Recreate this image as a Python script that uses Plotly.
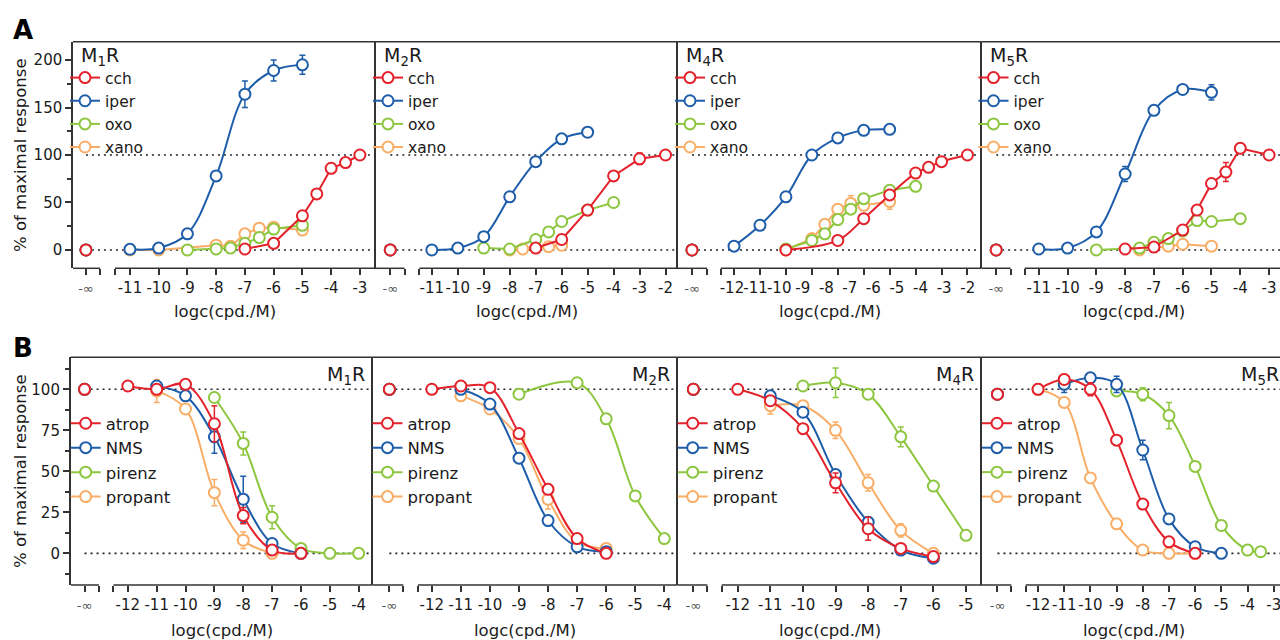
import plotly.graph_objects as go

# ====================== DATA ======================
# x = log10(concentration / M); y = % of maximal response; e = error (SEM)
# control value (no compound) is drawn at the "-inf" position of each panel

# ---- Panel A : agonists ----
A_names = ["cch", "iper", "oxo", "xano"]
A_ctrl = [0, 0, 0, 0]

# M1R
A1_cch_x = [-7, -6, -5, -4.5, -4, -3.5, -3]
A1_cch_y = [1, 7, 36, 59, 86, 92, 100]
A1_cch_e = [0, 1, 3, 2, 2, 2, 1]
A1_iper_x = [-11, -10, -9, -8, -7, -6, -5]
A1_iper_y = [0.7, 2, 17, 78, 164, 189, 195]
A1_iper_e = [0, 1, 3, 5, 14, 11, 10]
A1_oxo_x = [-9, -8, -7.5, -7, -6.5, -6, -5]
A1_oxo_y = [0, 1, 2, 7, 13, 22, 26]
A1_oxo_e = [0, 0, 1, 2, 2, 2, 2]
A1_xano_x = [-11, -10, -8, -7.5, -7, -6.5, -6, -5]
A1_xano_y = [0, 0, 5, 4, 17, 23, 24, 21]
A1_xano_e = [0, 0, 2, 1, 3, 2, 3, 2]

# M2R
A2_cch_x = [-7, -6, -5, -4, -3, -2]
A2_cch_y = [2, 11, 42, 78, 96, 100]
A2_cch_e = [0, 2, 2, 4, 6, 2]
A2_iper_x = [-11, -10, -9, -8, -7, -6, -5]
A2_iper_y = [0, 2, 14, 56, 93, 117, 124]
A2_iper_e = [0, 1, 2, 3, 3, 4, 3]
A2_oxo_x = [-9, -8, -7, -6.5, -6, -5, -4]
A2_oxo_y = [2, 1, 11, 19, 30, 42, 50]
A2_oxo_e = [0, 0, 1, 1, 2, 2, 5]
A2_xano_x = [-8, -7.5, -6.5, -6]
A2_xano_y = [0, 1, 3.5, 5]
A2_xano_e = [0, 0, 1, 2]

# M4R
A3_cch_x = [-9, -7, -6, -5, -4, -3.5, -3, -2]
A3_cch_y = [0, 10, 33, 58, 81, 87, 93, 100]
A3_cch_e = [0, 1, 2, 2, 2, 2, 2, 2]
A3_iper_x = [-11, -10, -9, -8, -7, -6, -5]
A3_iper_y = [4, 26, 56, 100, 118, 126, 127]
A3_iper_e = [0, 1, 2, 2, 2, 3, 4]
A3_oxo_x = [-9, -8, -7.5, -7, -6.5, -6, -5, -4]
A3_oxo_y = [1, 10, 17, 32, 43, 54, 63, 67]
A3_oxo_e = [0, 1, 2, 2, 3, 3, 2, 2]
A3_xano_x = [-9, -8, -7.5, -7, -6.5, -6, -5]
A3_xano_y = [0, 12, 27, 43, 49, 47, 51]
A3_xano_e = [0, 3, 3, 3, 8, 4, 8]

# M5R
A4_cch_x = [-8, -7, -6, -5.5, -5, -4.5, -4, -3]
A4_cch_y = [1, 3, 21, 42, 70, 82, 107, 100]
A4_cch_e = [0, 1, 2, 2, 3, 10, 2, 2]
A4_iper_x = [-11, -10, -9, -8, -7, -6, -5]
A4_iper_y = [1, 2, 19, 80, 147, 169, 166]
A4_iper_e = [0, 1, 2, 8, 4, 3, 8]
A4_oxo_x = [-9, -7.5, -7, -6.5, -6, -5.5, -5, -4]
A4_oxo_y = [0, 2, 8, 12, 20, 31, 30, 33]
A4_oxo_e = [0, 0, 1, 1, 1, 2, 1, 1]
A4_xano_x = [-7.5, -6.5, -6, -5]
A4_xano_y = [0, 4, 6, 4]
A4_xano_e = [0, 1, 1, 1]

# ---- Panel B : antagonists ----
B_names = ["atrop", "NMS", "pirenz", "propant"]

# M1R
B1_ctrl = [100, 100, 100, 100]
B1_atrop_x = [-12, -11, -10, -9, -8, -7, -6]
B1_atrop_y = [102, 100, 103, 79, 23, 2, 0]
B1_atrop_e = [0, 1, 1, 11, 5, 1, 1]
B1_NMS_x = [-11, -10, -9, -8, -7, -6]
B1_NMS_y = [102, 96, 71, 33, 6, 0]
B1_NMS_e = [1, 2, 10, 14, 2, 1]
B1_pirenz_x = [-9, -8, -7, -6, -5, -4]
B1_pirenz_y = [95, 67, 22, 3, 0, 0]
B1_pirenz_e = [1, 7, 7, 1, 0, 0]
B1_propant_x = [-11, -10, -9, -8, -7]
B1_propant_y = [99, 88, 37, 8, 0]
B1_propant_e = [7, 2, 8, 5, 0]

# M2R
B2_ctrl = [100, 100, 100, 100]
B2_atrop_x = [-12, -11, -10, -9, -8, -7, -6]
B2_atrop_y = [100, 102, 101, 73, 39, 9, 0]
B2_atrop_e = [0, 1, 1, 2, 2, 1, 1]
B2_NMS_x = [-11, -10, -9, -8, -7, -6]
B2_NMS_y = [100, 91, 58, 20, 4, 1]
B2_NMS_e = [1, 1, 1, 1, 1, 1]
B2_pirenz_x = [-9, -7, -6, -5, -4]
B2_pirenz_y = [97, 104, 82, 35, 9]
B2_pirenz_e = [3, 1, 3, 1, 1]
B2_propant_x = [-11, -10, -9, -8, -7, -6]
B2_propant_y = [96, 88, 70, 33, 7, 3]
B2_propant_e = [1, 2, 3, 6, 1, 1]

# M4R
B3_ctrl = [100, 100, 100, 100]
B3_atrop_x = [-12, -11, -10, -9, -8, -7, -6]
B3_atrop_y = [100, 93, 76, 43, 15, 3, -2]
B3_atrop_e = [0, 1, 1, 6, 7, 1, 1]
B3_NMS_x = [-11, -10, -9, -8, -7, -6]
B3_NMS_y = [96, 86, 48, 19, 2, -3]
B3_NMS_e = [1, 1, 2, 3, 1, 1]
B3_pirenz_x = [-10, -9, -8, -7, -6, -5]
B3_pirenz_y = [102, 104, 97, 71, 41, 11]
B3_pirenz_e = [1, 9, 3, 6, 1, 1]
B3_propant_x = [-11, -10, -9, -8, -7, -6]
B3_propant_y = [90, 90, 75, 43, 14, 0]
B3_propant_e = [5, 1, 5, 5, 4, 1]

# M5R
B4_ctrl = [97, 97, 97, 97]
B4_atrop_x = [-12, -11, -10, -9, -8, -7, -6]
B4_atrop_y = [100, 106, 100, 69, 30, 7, 0]
B4_atrop_e = [3, 3, 4, 1, 1, 1, 1]
B4_NMS_x = [-11, -10, -9, -8, -7, -6, -5]
B4_NMS_y = [103, 107, 103, 63, 21, 4, 0]
B4_NMS_e = [5, 3, 5, 6, 1, 1, 1]
B4_pirenz_x = [-9, -8, -7, -6, -5, -4, -3.5]
B4_pirenz_y = [99, 97, 84, 53, 17, 2, 1]
B4_pirenz_e = [1, 4, 8, 1, 1, 0, 0]
B4_propant_x = [-12, -11, -10, -9, -8, -7, -6]
B4_propant_y = [100, 92, 46, 18, 2, 0, 0]
B4_propant_e = [0, 1, 1, 1, 1, 0, 0]

# ---- tick labels ----
A1_ticks = [-11, -10, -9, -8, -7, -6, -5, -4, -3]
A2_ticks = [-11, -10, -9, -8, -7, -6, -5, -4, -3, -2]
A3_ticks = [-11, -10, -9, -8, -7, -6, -5, -4, -3, -2]          # tick marks
A3_label_text = ["-12", "-11", "-10", "-9", "-8", "-7", "-6", "-5", "-4", "-3", "-2"]
A3_label_pos = [-11.08, -10.17, -9.26, -8.35, -7.44, -6.54, -5.63, -4.72, -3.81, -2.9, -1.99]
A4_ticks = [-11, -10, -9, -8, -7, -6, -5, -4, -3]
B1_ticks = [-12, -11, -10, -9, -8, -7, -6, -5, -4]
B2_ticks = [-12, -11, -10, -9, -8, -7, -6, -5, -4]
B3_ticks = [-12, -11, -10, -9, -8, -7, -6, -5]
B4_ticks = [-12, -11, -10, -9, -8, -7, -6, -5, -4, -3]
A_yticks = [0, 50, 100, 150, 200]
A_yminor = [25, 75, 125, 175]
B_yticks = [0, 25, 50, 75, 100]
B_yminor = [-12.5, 12.5, 37.5, 62.5, 87.5, 112.5]
NINF_LABEL = "-∞"
receptor_titles = ["M<sub>1</sub>R", "M<sub>2</sub>R", "M<sub>4</sub>R", "M<sub>5</sub>R"]

# ====================== STYLE / LAYOUT ======================
W, H = 1280, 640
FONT = "DejaVu Sans, Arial, sans-serif"
AX = "#333333"
TXT = "#1a1a1a"
COL = {"cch": "#E3222B", "iper": "#1E5DAA", "oxo": "#8DC63F", "xano": "#F8AE66",
       "atrop": "#E3222B", "NMS": "#1E5DAA", "pirenz": "#8DC63F", "propant": "#F8AE66"}

g = globals()


def series(prefix, names):
    return ([g[f"{prefix}_{n}_x"] for n in names],
            [g[f"{prefix}_{n}_y"] for n in names],
            [g[f"{prefix}_{n}_e"] for n in names])


# geometry (pixels) and axis ranges for the 8 panels
PANELS = [
    dict(id="A1", names=A_names, ctrl=A_ctrl, ticks=A1_ticks, xpx=(73, 376), ypx=(41.7, 268.3),
         xr=[-12.98, -2.44], ninf=-12.53, brk=(-12.04, -11.52), yr=[-19.3, 219.3],
         shapes=["linear", "spline", "linear", "linear"]),
    dict(id="A2", names=A_names, ctrl=A_ctrl, ticks=A2_ticks, xpx=(376, 678), ypx=(41.7, 268.3),
         xr=[-13.15, -1.52], ninf=-12.6, brk=(-12.05, -11.48), yr=[-19.3, 219.3],
         shapes=["linear", "spline", "linear", "linear"]),
    dict(id="A3", names=A_names, ctrl=A_ctrl, ticks=A3_ticks, xpx=(678, 981.5), ypx=(41.7, 268.3),
         xr=[-13.16, -1.46], ninf=-12.62, brk=(-12.04, -11.51), yr=[-19.3, 219.3],
         shapes=["spline", "spline", "linear", "linear"]),
    dict(id="A4", names=A_names, ctrl=A_ctrl, ticks=A4_ticks, xpx=(981.5, 1280), ypx=(41.7, 268.3),
         xr=[-12.99, -2.62], ninf=-12.48, brk=(-11.98, -11.49), yr=[-19.3, 219.3],
         shapes=["linear", "spline", "linear", "linear"]),
    dict(id="B1", names=B_names, ctrl=B1_ctrl, ticks=B1_ticks, xpx=(70.7, 372.5), ypx=(357.3, 585),
         xr=[-13.98, -3.52], ninf=-13.5, brk=(-13.0, -12.5), yr=[-19.3, 119.5],
         shapes=["spline"] * 4),
    dict(id="B2", names=B_names, ctrl=B2_ctrl, ticks=B2_ticks, xpx=(372.5, 677.7), ypx=(357.3, 585),
         xr=[-14.04, -3.54], ninf=-13.46, brk=(-12.98, -12.48), yr=[-19.3, 119.5],
         shapes=["spline"] * 4),
    dict(id="B3", names=B_names, ctrl=B3_ctrl, ticks=B3_ticks, xpx=(677.7, 982), ypx=(357.3, 585),
         xr=[-13.84, -4.51], ninf=-13.36, brk=(-12.93, -12.49), yr=[-19.3, 119.5],
         shapes=["spline"] * 4),
    dict(id="B4", names=B_names, ctrl=B4_ctrl, ticks=B4_ticks, xpx=(982, 1280), ypx=(357.3, 585),
         xr=[-14.14, -2.76], ninf=-13.55, brk=(-13.02, -12.47), yr=[-19.3, 119.5],
         shapes=["spline"] * 4),
]

ninf_txt = f"<span style='font-size:13px;color:#555'>{NINF_LABEL}</span>"

fig = go.Figure()
layout = dict(width=W, height=H, margin=dict(l=0, r=0, t=0, b=0),
              paper_bgcolor="white", plot_bgcolor="white",
              font=dict(family=FONT, color=TXT), shapes=[], annotations=[])

for i, P in enumerate(PANELS):
    k = i + 1
    sfx = "" if k == 1 else str(k)
    xa, ya, lg = "x" + sfx, "y" + sfx, "legend" + sfx
    rowA = P["id"].startswith("A")
    first = (i % 4 == 0)
    xs, ys, es = series(P["id"], P["names"])

    # traces: draw in reverse order so the first series sits on top
    for j in reversed(range(4)):
        n = P["names"][j]
        fig.add_trace(go.Scatter(
            x=[P["ninf"], None] + list(xs[j]),
            y=[P["ctrl"][j], None] + list(ys[j]),
            mode="lines+markers", name=n, xaxis=xa, yaxis=ya, legend=lg,
            line=dict(color=COL[n], width=2, shape=P["shapes"][j], smoothing=1.0),
            marker=dict(symbol="circle", size=11, color="white",
                        line=dict(color=COL[n], width=2)),
            error_y=dict(type="data", array=[0, 0] + list(es[j]), visible=True,
                         color=COL[n], thickness=1.5, width=3),
        ))

    xdom = [P["xpx"][0] / W, P["xpx"][1] / W]
    ydom = [1 - P["ypx"][1] / H, 1 - P["ypx"][0] / H]

    tickfont = dict(family=FONT, size=15, color=TXT)
    if P["id"] == "A3":
        tickvals = [P["ninf"]] + A3_label_pos
        ticktext = [ninf_txt] + A3_label_text
        major_col = "rgba(0,0,0,0)"
        minor_vals = [P["ninf"] + 0.005, P["brk"][0], P["brk"][1]] + P["ticks"]
    else:
        tickvals = [P["ninf"]] + P["ticks"]
        ticktext = [ninf_txt] + [str(t) for t in P["ticks"]]
        major_col = AX
        minor_vals = list(P["brk"])

    layout["xaxis" + sfx] = dict(
        domain=xdom, range=P["xr"], anchor=ya, showline=False, showgrid=False, zeroline=False,
        tickmode="array", tickvals=tickvals, ticktext=ticktext, ticks="outside", tickangle=0,
        ticklen=6, tickwidth=1.5, tickcolor=major_col, tickfont=tickfont,
        ticklabeloverflow="allow",
        minor=dict(tickmode="array", tickvals=minor_vals, ticks="outside", ticklen=6,
                   tickwidth=1.5, tickcolor=AX, showgrid=False),
    )
    layout["yaxis" + sfx] = dict(
        domain=ydom, range=P["yr"], anchor=xa, showline=True, mirror=False, linecolor=AX,
        linewidth=1.5, showgrid=False, zeroline=False, tickmode="array",
        tickvals=A_yticks if rowA else B_yticks, showticklabels=first,
        ticks="outside" if first else "", ticklen=6, tickwidth=1.5, tickcolor=AX, tickfont=tickfont,
        minor=dict(tickmode="array", tickvals=A_yminor if rowA else B_yminor,
                   ticks="outside" if first else "", ticklen=4, tickwidth=1.5, tickcolor=AX,
                   showgrid=False),
    )

    # broken x-axis baseline, top frame line, dotted reference lines
    line = dict(color=AX, width=1.5)
    layout["shapes"] += [
        dict(type="line", xref=xa, yref=ya + " domain", x0=P["xr"][0], x1=P["brk"][0], y0=0, y1=0, line=line),
        dict(type="line", xref=xa, yref=ya + " domain", x0=P["brk"][1], x1=P["xr"][1], y0=0, y1=0, line=line),
        dict(type="line", xref=xa + " domain", yref=ya + " domain", x0=0, x1=1, y0=1, y1=1, line=line),
    ]
    for yref_val in (0, 100):
        layout["shapes"].append(dict(type="line", xref=xa, yref=ya, x0=P["ninf"], x1=P["xr"][1],
                                     y0=yref_val, y1=yref_val, layer="below",
                                     line=dict(color="#222", width=1.6, dash="2px,4px")))

    # receptor title
    rt = receptor_titles[i % 4]
    if rowA:
        layout["annotations"].append(dict(text=rt, xref="paper", yref="paper", showarrow=False,
                                          x=(P["xpx"][0] + 6) / W, y=1 - 56.7 / H, xanchor="left",
                                          yanchor="middle", font=dict(family=FONT, size=19, color=TXT)))
    else:
        right = P["xpx"][1] if P["id"] != "B4" else 1287
        layout["annotations"].append(dict(text=rt, xref="paper", yref="paper", showarrow=False,
                                          x=(right - 6) / W, y=1 - 375 / H, xanchor="right",
                                          yanchor="middle", font=dict(family=FONT, size=19, color=TXT)))
    # x-axis title
    cx = (P["xpx"][0] + P["xpx"][1]) / 2 if P["id"] not in ("A4", "B4") else P["xpx"][0] + 152
    layout["annotations"].append(dict(text="logc(cpd./M)", xref="paper", yref="paper", showarrow=False,
                                      x=cx / W, y=1 - (311 if rowA else 630) / H,
                                      xanchor="center", yanchor="middle",
                                      font=dict(family=FONT, size=16.5, color=TXT)))
    # legend
    layout[lg] = dict(x=(P["xpx"][0] - 8) / W if rowA else (P["xpx"][0] - 5) / W,
                      y=1 - (61 if rowA else 406) / H, xanchor="left", yanchor="top",
                      bgcolor="rgba(0,0,0,0)", borderwidth=0, traceorder="reversed",
                      font=dict(family=FONT, size=15.5 if rowA else 16.5, color=TXT))

# row titles and panel letters
for letter, yc, ytc in (("A", 30, 155), ("B", 348, 471)):
    layout["annotations"].append(dict(text=f"<b>{letter}</b>", xref="paper", yref="paper", showarrow=False,
                                      x=11 / W, y=1 - yc / H, xanchor="left", yanchor="middle",
                                      font=dict(family=FONT, size=26, color="#000")))
    layout["annotations"].append(dict(text="% of maximal response", xref="paper", yref="paper",
                                      showarrow=False, x=20 / W, y=1 - ytc / H, textangle=-90,
                                      xanchor="center", yanchor="middle",
                                      font=dict(family=FONT, size=16.5, color=TXT)))

fig.update_layout(**layout)
fig.write_html("out.html", config={"displayModeBar": False},
               post_script="document.body.style.margin='0px';document.body.style.padding='0px';")
